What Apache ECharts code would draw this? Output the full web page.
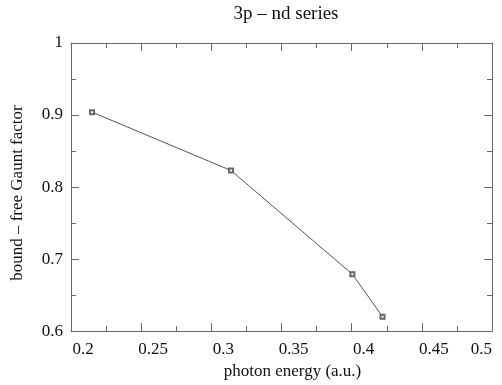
<!DOCTYPE html>
<html>
<head>
<meta charset="utf-8">
<script src="https://cdn.jsdelivr.net/npm/echarts@6/dist/echarts.min.js"></script>
<style>html,body{margin:0;padding:0;background:#fff;}#c{width:502px;height:385px;}</style>
</head>
<body>
<div id="c"></div>
<script>
var titleText = '3p \u2013 nd series';
var xName = 'photon energy (a.u.)';
var yName = 'bound \u2013 free Gaunt factor';
var photonEnergy = [0.215, 0.314, 0.4005, 0.422];
var gauntFactor = [0.904, 0.823, 0.679, 0.620];

var font = 'Liberation Serif';
var axisColor = '#666';
var chart = echarts.init(document.getElementById('c'), null, {renderer: 'canvas'});
var tickCommon = {inside: true, length: 8, lineStyle: {color: axisColor, width: 1}};
var minorCommon = {show: true, splitNumber: 2, length: 5, lineStyle: {color: axisColor, width: 1}};
chart.setOption({
  animation: false,
  backgroundColor: '#fff',
  title: {
    text: titleText, left: 281, top: 0, textAlign: 'center',
    textStyle: {fontFamily: font, fontSize: 19, fontWeight: 'normal', color: '#111'}
  },
  grid: {left: 71, right: 10, top: 43, bottom: 48},
  xAxis: [{
    type: 'value', min: 0.2, max: 0.5, interval: 0.05, position: 'bottom',
    name: xName, nameLocation: 'middle', nameGap: 29,
    nameTextStyle: {fontFamily: font, fontSize: 17, color: '#111', padding: [0, 0, 0, 22]},
    axisLine: {show: true, lineStyle: {color: axisColor, width: 1}},
    axisTick: tickCommon, minorTick: minorCommon,
    axisLabel: {fontFamily: font, fontSize: 17, color: '#111', margin: 10, padding: [0, 0, 0, 24], alignMaxLabel: 'right'},
    splitLine: {show: false}
  }, {
    type: 'value', min: 0.2, max: 0.5, interval: 0.05, position: 'top',
    axisLine: {show: true, lineStyle: {color: axisColor, width: 1}},
    axisTick: tickCommon, minorTick: minorCommon,
    axisLabel: {show: false}, splitLine: {show: false}
  }],
  yAxis: [{
    type: 'value', min: 0.6, max: 1, interval: 0.1, position: 'left',
    name: yName, nameLocation: 'middle', nameGap: 45, nameRotate: 90,
    nameTextStyle: {fontFamily: font, fontSize: 17, color: '#111', padding: [0, 12, 0, 0]},
    axisLine: {show: true, lineStyle: {color: axisColor, width: 1}},
    axisTick: tickCommon, minorTick: minorCommon,
    axisLabel: {fontFamily: font, fontSize: 17, color: '#111', margin: 8, padding: [8, 0, 0, 0]},
    splitLine: {show: false}
  }, {
    type: 'value', min: 0.6, max: 1, interval: 0.1, position: 'right',
    axisLine: {show: true, lineStyle: {color: axisColor, width: 1}},
    axisTick: tickCommon, minorTick: minorCommon,
    axisLabel: {show: false}, splitLine: {show: false}
  }],
  series: [{
    type: 'line',
    xAxisIndex: 0, yAxisIndex: 0,
    data: photonEnergy.map(function (x, i) { return [x, gauntFactor[i]]; }),
    symbol: 'emptyRect', symbolSize: 4,
    lineStyle: {color: '#555', width: 1},
    itemStyle: {color: '#666', borderColor: '#666', borderWidth: 1}
  }]
});
</script>
</body>
</html>
